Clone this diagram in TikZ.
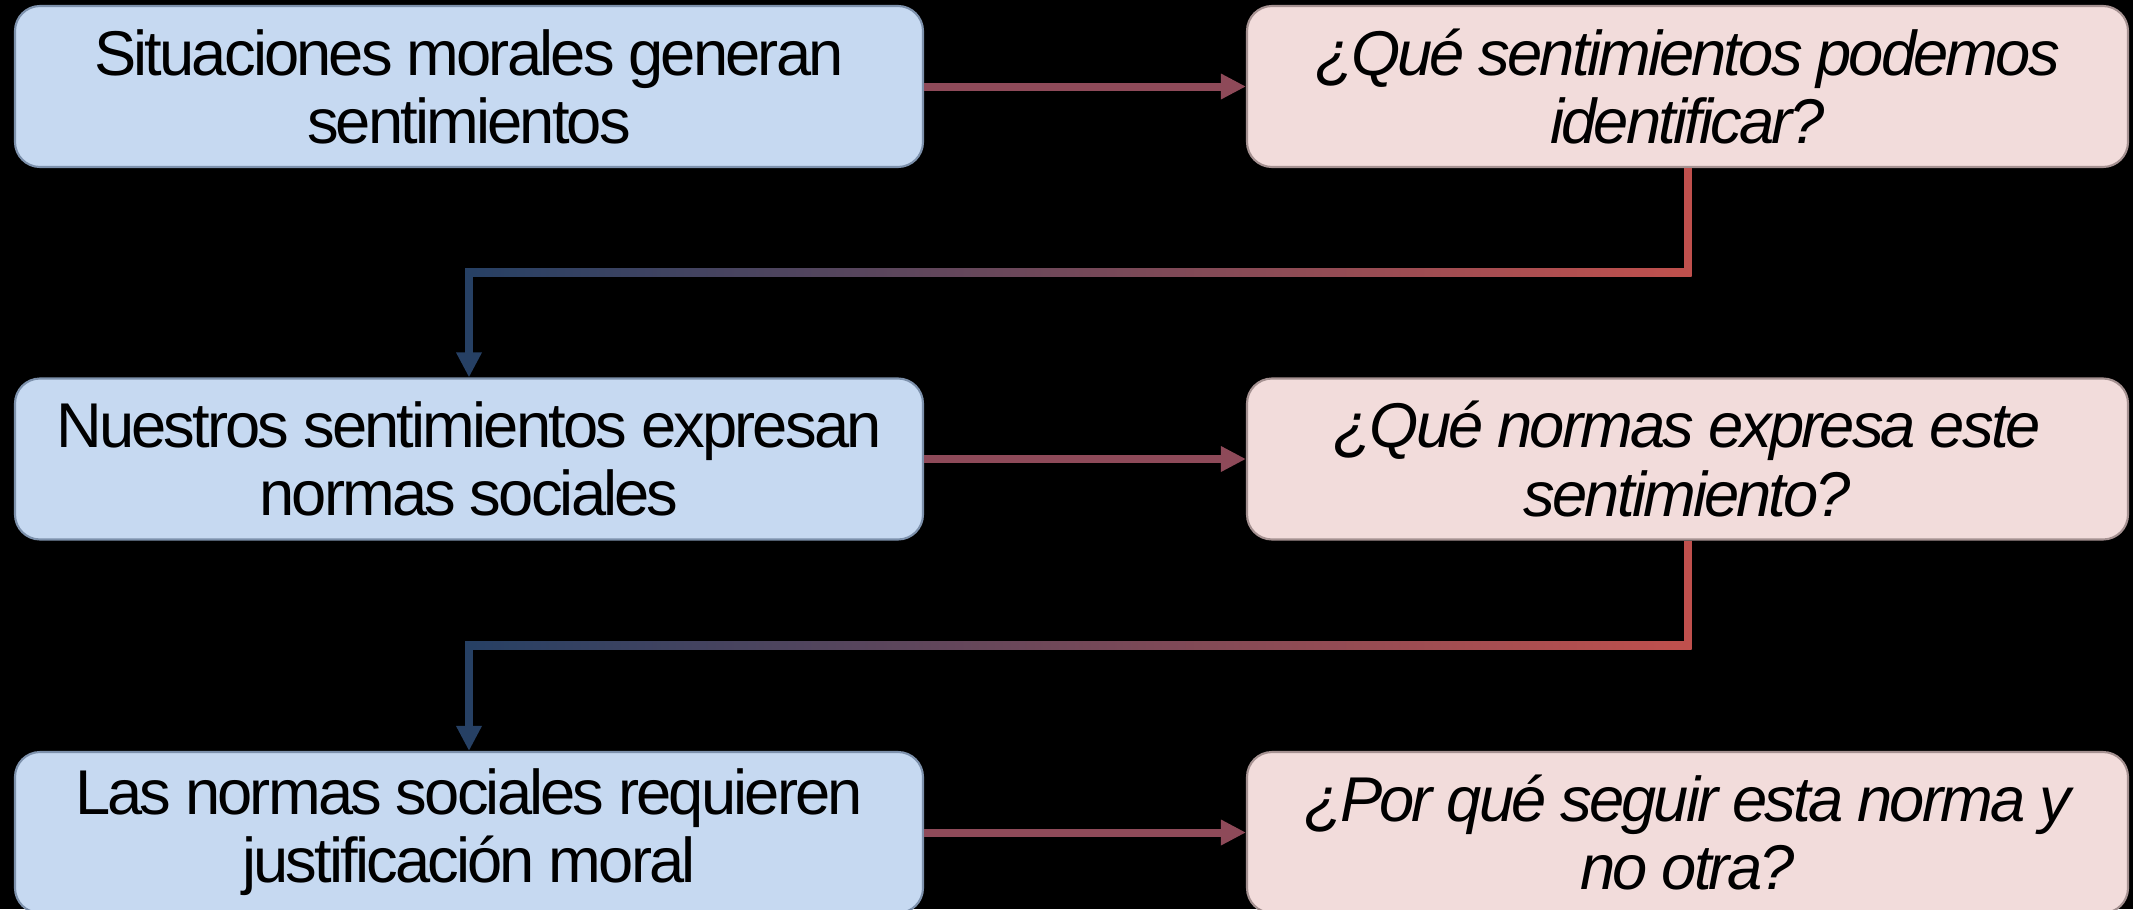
\documentclass[tikz,border=0pt]{standalone}
\usepackage{fontspec}
\setmainfont{Liberation Sans}[LetterSpace=-4.5]
\usetikzlibrary{arrows.meta,calc}
\definecolor{stepblue}{RGB}{198,217,241}
\definecolor{askpink}{RGB}{242,220,219}
\definecolor{blueedge}{RGB}{125,145,172}
\definecolor{pinkedge}{RGB}{165,145,145}
\definecolor{linkred}{RGB}{142,74,89}
\definecolor{elbowred}{RGB}{192,80,77}
\definecolor{elbowblue}{RGB}{38,64,100}
\begin{document}
\begin{tikzpicture}[
    claim/.style={draw=blueedge, line width=0.6pt, fill=stepblue, rounded corners=0.25cm,
        minimum width=9.08cm, minimum height=1.61cm, text width=8.8cm, align=center,
        inner sep=0pt, font=\fontsize{18}{19.4}\selectfont,
        execute at begin node={\spaceskip=0.22em\relax}},
    ask/.style={claim, draw=pinkedge, fill=askpink, minimum width=8.81cm, text width=8.6cm,
        font=\fontsize{18}{19.4}\selectfont\itshape},
    link/.style={line width=0.08cm, linkred, -{Triangle[length=0.25cm, width=0.24cm]}},
    elbow/.style={line width=0.08cm}
]
    \path[use as bounding box, fill=black] (0, 0) rectangle (21.33, -9.09);
    \node[claim] (s1) at (4.69, -0.865) {Situaciones morales generan\\sentimientos};
    \node[claim] (s2) at (4.69, -4.59) {Nuestros sentimientos expresan\\normas sociales};
    \node[claim] (s3) at (4.69, -8.325) {Las normas sociales requieren\\justificación moral};
    \node[ask] (q1) at (16.875, -0.865) {¿Qué sentimientos podemos\\identificar?};
    \node[ask] (q2) at (16.875, -4.59) {¿Qué normas expresa este\\sentimiento?};
    \node[ask] (q3) at (16.875, -8.325) {¿Por qué seguir esta norma y\\no otra?};
    \draw[link] (s1.east) -- (q1.west);
    \draw[link] (s2.east) -- (q2.west);
    \draw[link] (s3.east) -- (q3.west);
    % elbows back to the left column
    \coordinate (e1) at ($(q1.south)!0.5!(s2.north)$);
    \coordinate (e2) at ($(q2.south)!0.5!(s3.north)$);
    \draw[elbow, elbowred] (q1.south) -- (q1.south |- e1);
    \shade[left color=elbowblue, right color=elbowred] ($(s2.north |- e1)+(-0.04, -0.04)$) rectangle ($(q1.south |- e1)+(0.04, 0.04)$);
    \draw[elbow, elbowblue, -{Triangle[length=0.25cm, width=0.24cm]}] (s2.north |- e1) -- (s2.north);
    \draw[elbow, elbowred] (q2.south) -- (q2.south |- e2);
    \shade[left color=elbowblue, right color=elbowred] ($(s3.north |- e2)+(-0.04, -0.04)$) rectangle ($(q2.south |- e2)+(0.04, 0.04)$);
    \draw[elbow, elbowblue, -{Triangle[length=0.25cm, width=0.24cm]}] (s3.north |- e2) -- (s3.north);
\end{tikzpicture}
\end{document}
